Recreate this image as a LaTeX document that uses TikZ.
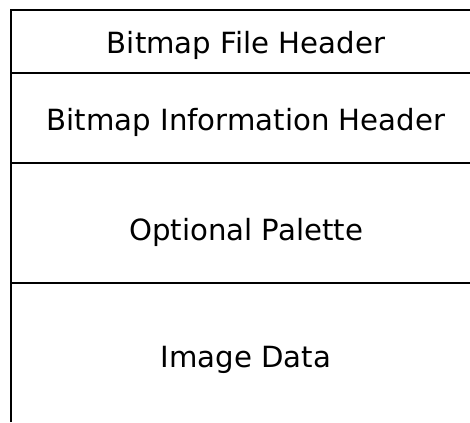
\documentclass[tikz,border=0pt]{standalone}
\usepackage{fontspec}
\setmainfont{DejaVu Sans}
\usepackage{tikz}

\begin{document}
\begin{tikzpicture}[x=0.75pt,y=0.75pt,yscale=-1,xscale=1]
        \useasboundingbox (0,0) rectangle (470,422);
        \tikzset{rowline/.style={line width=1.5pt}, rowtext/.style={anchor=base,inner sep=0pt,font=\fontsize{21.9}{26}\selectfont}}
        % outline of the layout
        \draw [rowline]  (11,422) -- (11,10) -- (470,10) ;
        \draw [rowline]  (11,72.5) -- (470,72.5) ;
        \draw [rowline]  (11,163) -- (470,163) ;
        \draw [rowline]  (11,283) -- (470,283) ;

        \node [rowtext] (fileheader) at (246,53) {Bitmap File Header};
        \node [rowtext] (infoheader) at (246,130) {Bitmap Information Header};
        \node [rowtext] (palette) at (246,240) {Optional Palette};
        \node [rowtext] (imagedata) at (246,367) {Image Data};
    \end{tikzpicture}
\end{document}
